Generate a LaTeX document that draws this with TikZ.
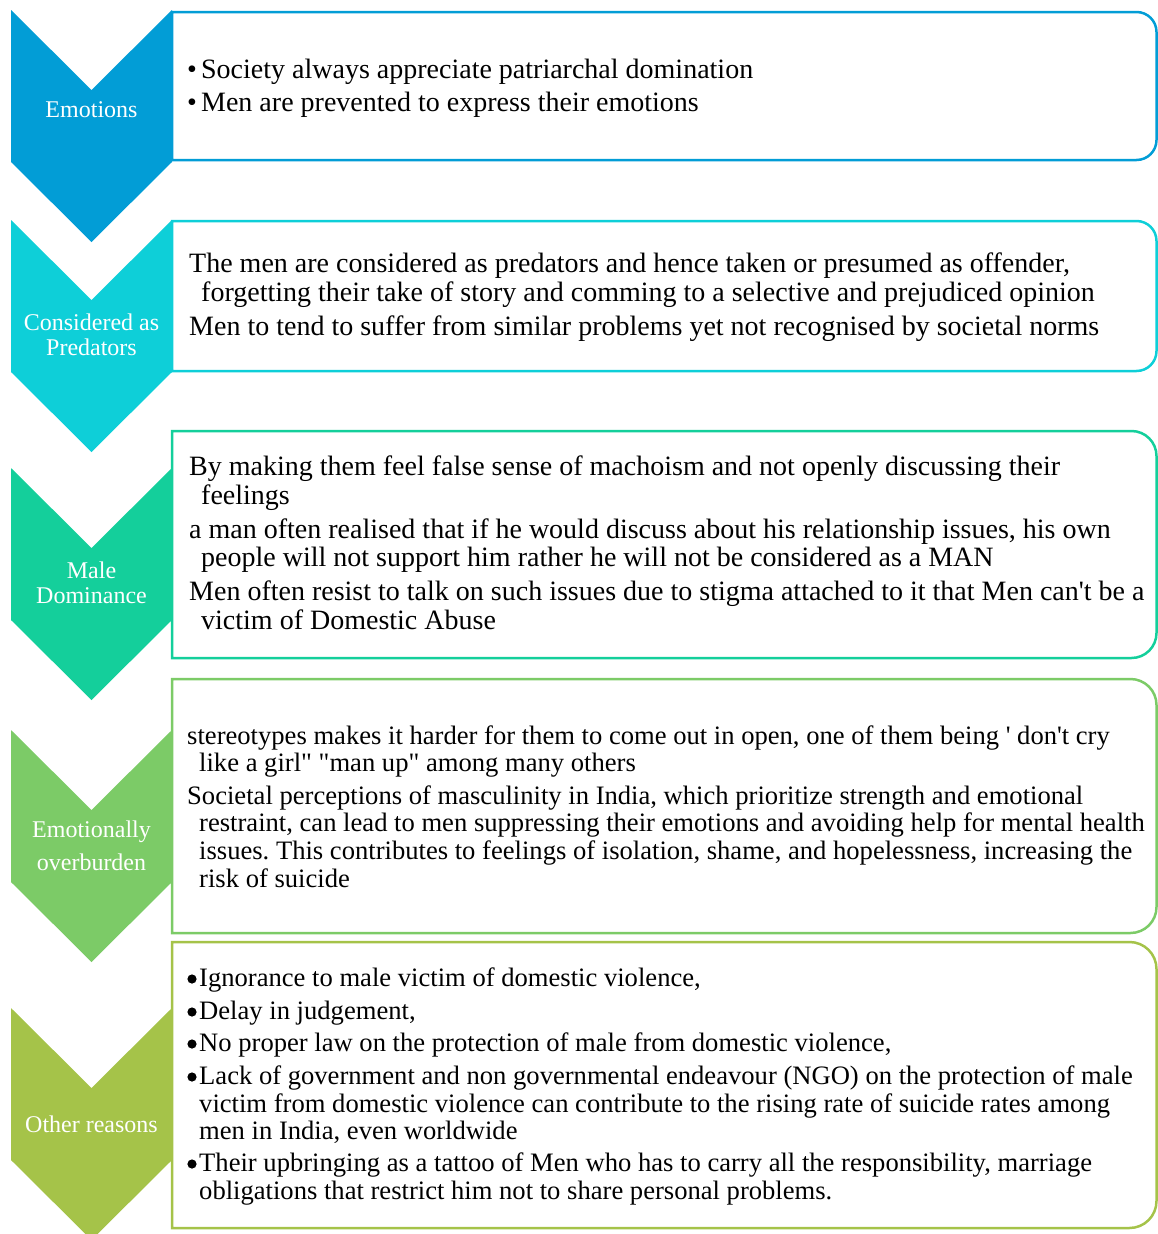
\documentclass[tikz,border=0pt]{standalone}
\usepackage{fontspec}
\setmainfont{Liberation Serif}
\frenchspacing
\definecolor{cA}{HTML}{029DD6}
\definecolor{cB}{HTML}{0ECFD8}
\definecolor{cC}{HTML}{14CF9B}
\definecolor{cD}{HTML}{7CCB67}
\definecolor{cE}{HTML}{A5C349}
\newcommand{\chev}[2]{\fill[#1] (11,#2) -- (91.5,#2+80) -- (172,#2) -- (172,#2+152) -- (91.5,#2+232) -- (11,#2+152) -- cycle;}
\newcommand{\rbox}[4]{\draw[boxline,draw=#1] (172,#2) -- (1000,#2) [rounded corners=#4] -- (1156.5,#2) -- (1156.5,#3) -- (1000,#3) [sharp corners] -- (172,#3) -- cycle;}
\newcommand{\bdot}[1]{\fill[black] (192,#1-7) circle[radius=4.6];}
\begin{document}
\begin{tikzpicture}[x=1pt,y=-1pt,
  boxline/.style={line width=2.5pt},
  lab/.style={anchor=base, inner sep=0pt, text=white, font=\fontsize{24}{24}\selectfont},
  lnA/.style={anchor=base west, inner sep=0pt, font=\fontsize{28}{28}\selectfont},
  lnB/.style={anchor=base west, inner sep=0pt, font=\fontsize{26.6}{26.6}\selectfont}]
\useasboundingbox (0,0) rectangle (1158,1234);
\clip (0,0) rectangle (1158,1234);
% boxes
\rbox{cA}{12}{160}{20}
\rbox{cB}{221}{371}{20}
\rbox{cC}{431}{658}{25}
\rbox{cD}{679}{933}{26}
\rbox{cE}{942}{1228}{27}
% chevrons
\chev{cA}{10}
\chev{cB}{220}
\chev{cC}{468}
\chev{cD}{730}
\chev{cE}{1008}
% labels
\node[lab] (l1) at (91.5,117) {Emotions};
\node[lab] (l2a) at (91.5,330) {Considered as};
\node[lab] (l2b) at (91.5,355) {Predators};
\node[lab] (l3a) at (91.5,578) {Male};
\node[lab] (l3b) at (91.5,603) {Dominance};
\node[lab] (l4a) at (91.5,837) {Emotionally};
\node[lab] (l4b) at (91.5,870) {overburden};
\node[lab] (l5) at (91.5,1132) {Other reasons};
% box 1
\node[lnA] (a1) at (187,78) {\makebox[14pt][l]{•}Society always appreciate patriarchal domination};
\node[lnA] (a2) at (187,111) {\makebox[14pt][l]{•}Men are prevented to express their emotions};
% box 2
\node[lnA] (b1) at (189,272) {The men are considered as predators and hence taken or presumed as offender,};
\node[lnA] (b2) at (201,301) {forgetting their take of story and comming to a selective and prejudiced opinion};
\node[lnA] (b3) at (189,335) {Men to tend to suffer from similar problems yet not recognised by societal norms};
% box 3
\node[lnA] (c1) at (189,475) {By making them feel false sense of machoism and not openly discussing their};
\node[lnA] (c2) at (201,504) {feelings};
\node[lnA] (c3) at (189,538) {a man often realised that if he would discuss about his relationship issues, his own};
\node[lnA] (c4) at (201,566) {people will not support him rather he will not be considered as a MAN};
\node[lnA] (c5) at (189,600) {Men often resist to talk on such issues due to stigma attached to it that Men can\textquotesingle t be a};
\node[lnA] (c6) at (201,629) {victim of Domestic Abuse};
% box 4
\node[lnB] (d1) at (187,744) {stereotypes makes it harder for them to come out in open, one of them being \textquotesingle\ don\textquotesingle t cry};
\node[lnB] (d2) at (199,771) {like a girl\textquotedbl\ \textquotedbl man up\textquotedbl\ among many others};
\node[lnB] (d3) at (187,804) {Societal perceptions of masculinity in India, which prioritize strength and emotional};
\node[lnB] (d4) at (199,831) {restraint, can lead to men suppressing their emotions and avoiding help for mental health};
\node[lnB] (d5) at (199,859) {issues. This contributes to feelings of isolation, shame, and hopelessness, increasing the};
\node[lnB] (d6) at (199,887) {risk of suicide};
% box 5
\bdot{986}\bdot{1019}\bdot{1051}\bdot{1084}\bdot{1171}
\node[lnB] (e1) at (199,986) {Ignorance to male victim of domestic violence,};
\node[lnB] (e2) at (199,1019) {Delay in judgement,};
\node[lnB] (e3) at (199,1051) {No proper law on the protection of male from domestic violence,};
\node[lnB] (e4) at (199,1084) {Lack of government and non governmental endeavour (NGO) on the protection of male};
\node[lnB] (e5) at (199,1112) {victim from domestic violence can contribute to the rising rate of suicide rates among};
\node[lnB] (e6) at (199,1139) {men in India, even worldwide};
\node[lnB] (e7) at (199,1171) {Their upbringing as a tattoo of Men who has to carry all the responsibility, marriage};
\node[lnB] (e8) at (199,1199) {obligations that restrict him not to share personal problems.};
\end{tikzpicture}
\end{document}
